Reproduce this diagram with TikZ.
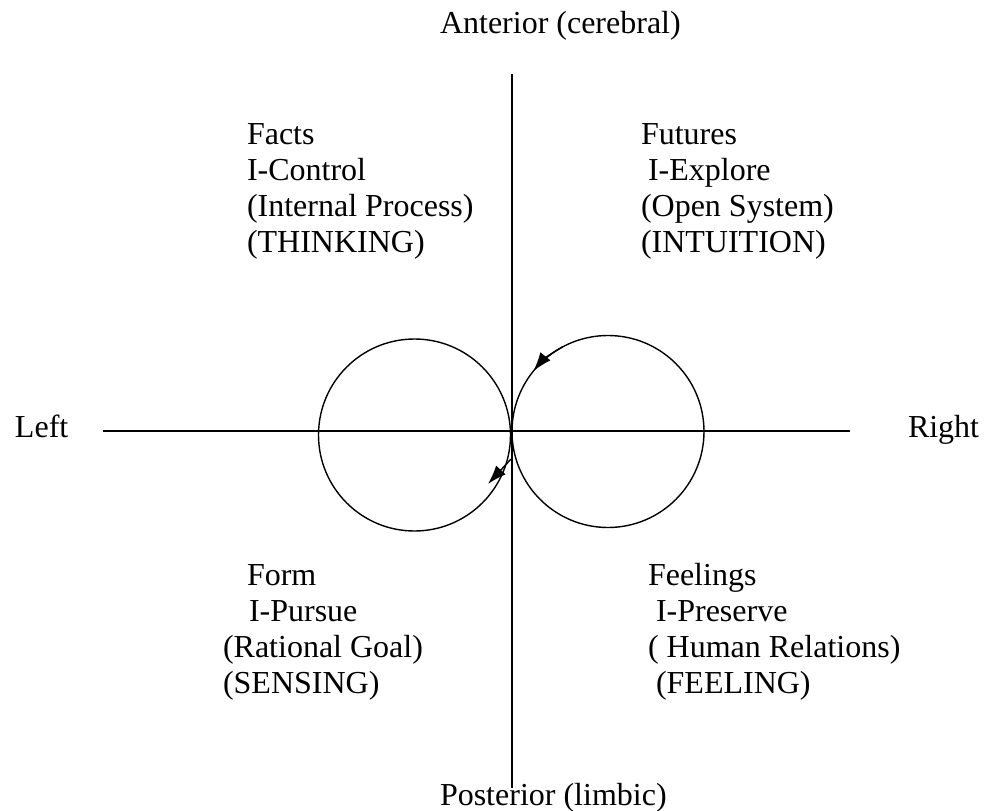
\documentclass[tikz,border=0pt]{standalone}
\usepackage{fontspec}
\setmainfont{Liberation Serif}
\usetikzlibrary{arrows.meta}
\tikzset{
  lab/.style={anchor=base west, inner sep=0pt, outer sep=0pt, font=\fontsize{32}{36}\selectfont},
  axis/.style={line width=1.7pt, black},
  loop/.style={draw, circle, line width=1.4pt, minimum size=192pt, inner sep=0pt, outer sep=0pt},
  arr/.style={line width=1.4pt, -{Latex[length=19pt,width=13pt]}}
}
\begin{document}
\begin{tikzpicture}[x=1pt,y=-1pt]
\useasboundingbox[fill=white] (0,0) rectangle (986,811);
% axes
\coordinate (vt) at (512,74);
\coordinate (vb) at (512,788);
\coordinate (hl) at (103,431);
\coordinate (hr) at (850,431);
\draw[axis] (vt) -- (vb);
\draw[axis] (hl) -- (hr);
% loops
\node[loop] (lc) at (414.5,435) {};
\node[loop] (rc) at (608,431.5) {};
\draw[arr] (rc.118) arc[start angle=-118, end angle=-141, radius=96];
\coordinate (a2s) at (511,459);
\coordinate (a2e) at (488,484);
\draw[arr] (a2s) -- (a2e);
% axis labels
\node[lab] (ant) at (440,33) {Anterior (cerebral)};
\node[lab] (post) at (440,805) {Posterior (limbic)};
\node[lab] (left) at (15,437) {Left};
\node[lab] (right) at (908,437) {Right};
% upper left
\node[lab] (ul1) at (247,144) {Facts};
\node[lab] (ul2) at (247,180) {I-Control};
\node[lab] (ul3) at (247,216) {(Internal Process)};
\node[lab] (ul4) at (247,252) {(THINKING)};
% upper right
\node[lab] (ur1) at (641,144) {Futures};
\node[lab] (ur2) at (648,180) {I-Explore};
\node[lab] (ur3) at (641,216) {(Open System)};
\node[lab] (ur4) at (641,252) {(INTUITION)};
% lower left
\node[lab] (ll1) at (247,585) {Form};
\node[lab] (ll2) at (249,621) {I-Pursue};
\node[lab] (ll3) at (223,657) {(Rational Goal)};
\node[lab] (ll4) at (223,693) {(SENSING)};
% lower right
\node[lab] (lr1) at (648,585) {Feelings};
\node[lab] (lr2) at (656,621) {I-Preserve};
\node[lab] (lr3) at (648,657) {( Human Relations)};
\node[lab] (lr4) at (656,693) {(FEELING)};
\end{tikzpicture}
\end{document}
